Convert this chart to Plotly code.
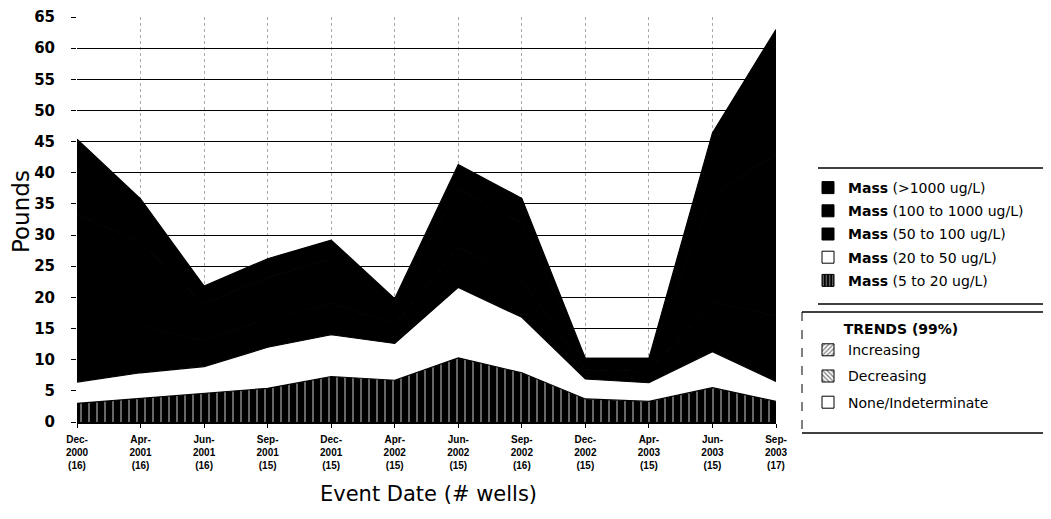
import plotly.graph_objects as go

# ---- data ----
months = ["Dec-", "Apr-", "Jun-", "Sep-", "Dec-", "Apr-", "Jun-", "Sep-", "Dec-", "Apr-", "Jun-", "Sep-"]
years = ["2000", "2001", "2001", "2001", "2001", "2002", "2002", "2002", "2002", "2003", "2003", "2003"]
wells = ["(16)", "(16)", "(16)", "(15)", "(15)", "(15)", "(15)", "(16)", "(15)", "(15)", "(15)", "(17)"]

mass_5_20 = [3.0, 3.8, 4.6, 5.4, 7.3, 6.7, 10.3, 7.9, 3.7, 3.3, 5.5, 3.3]
mass_20_50 = [3.4, 4.1, 4.3, 6.6, 6.7, 5.9, 11.3, 8.9, 3.2, 3.0, 5.8, 3.2]
mass_50_100 = [9.0, 7.5, 4.0, 4.5, 5.0, 3.0, 6.5, 6.0, 1.5, 1.8, 8.0, 10.5]
mass_100_1000 = [18.0, 13.4, 6.0, 6.7, 7.2, 3.2, 9.2, 9.1, 1.8, 2.1, 17.1, 26.0]
mass_gt_1000 = [12.0, 7.0, 2.9, 3.0, 3.0, 1.0, 4.0, 4.0, 0.0, 0.0, 10.0, 20.0]

y_ticks = [0, 5, 10, 15, 20, 25, 30, 35, 40, 45, 50, 55, 60, 65]

series_names = ["Mass (5 to 20 ug/L)", "Mass (20 to 50 ug/L)", "Mass (50 to 100 ug/L)",
                "Mass (100 to 1000 ug/L)", "Mass (>1000 ug/L)"]
trend_names = ["Increasing", "Decreasing", "None/Indeterminate"]

# ---- layout geometry (screen pixels) ----
OFF = 8                       # page body margin
W, H = 1051 - 2 * OFF, 519 - 2 * OFF
X0, X1 = 77, 776              # plot area left/right on screen
YB, YT = 422, 17              # plot area bottom/top on screen


def px(x):
    return (x - X0) / (X1 - X0)


def py(y):
    return (YB - y) / (YB - YT)


idx = list(range(len(months)))
tick_text = [f"{m}<br>{y}<br>{w}" for m, y, w in zip(months, years, wells)]

fig = go.Figure()

series = [mass_5_20, mass_20_50, mass_50_100, mass_100_1000, mass_gt_1000]
fills = ["black", "white", "black", "black", "black"]
for i, (vals, name, fc) in enumerate(zip(series, series_names, fills)):
    kw = {}
    if i == 0:
        kw["fillpattern"] = dict(shape="|", fgcolor="white", bgcolor="black", size=8, solidity=0.2)
    fig.add_trace(go.Scatter(
        x=idx, y=vals, name=name, stackgroup="one", mode="lines",
        fillcolor=fc, line=dict(width=1.2, color="black"), showlegend=False,
        hoverinfo="skip", **kw))

# ---- legend entries (square icons) ----
leg_font = dict(family="DejaVu Sans", size=14, color="black")
legend_specs = [
    (series_names[4], dict(color="black")),
    (series_names[3], dict(color="black")),
    (series_names[2], dict(color="black")),
    (series_names[1], dict(color="white")),
    (series_names[0], dict(color="black", pattern=dict(shape="|", fgcolor="white", bgcolor="black", size=4, solidity=0.35))),
]
for k, (name, mk) in enumerate(legend_specs):
    label = name.replace("Mass", "<b>Mass</b>", 1)
    fig.add_trace(go.Bar(x=[None], y=[None], name=label, legend="legend", legendgroup=f"m{k}",
                         marker=dict(line=dict(color="black", width=1), **mk), hoverinfo="skip"))

trend_specs = [
    (trend_names[0], dict(color="white", pattern=dict(shape="/", fgcolor="black", bgcolor="white", size=4, solidity=0.4))),
    (trend_names[1], dict(color="white", pattern=dict(shape="\\", fgcolor="black", bgcolor="white", size=4, solidity=0.4))),
    (trend_names[2], dict(color="white")),
]
for k, (name, mk) in enumerate(trend_specs):
    fig.add_trace(go.Bar(x=[None], y=[None], name=name, legend="legend2", legendgroup=f"t{k}",
                         marker=dict(line=dict(color="black", width=1), **mk), hoverinfo="skip"))

# ---- legend frames ----
shapes = [
    dict(type="line", xref="paper", yref="paper", x0=px(818), x1=px(1051), y0=py(168), y1=py(168), line=dict(color="black", width=1.5)),
    dict(type="line", xref="paper", yref="paper", x0=px(818), x1=px(1051), y0=py(304), y1=py(304), line=dict(color="black", width=1.5)),
    dict(type="line", xref="paper", yref="paper", x0=px(802), x1=px(1051), y0=py(312), y1=py(312), line=dict(color="black", width=1.5)),
    dict(type="line", xref="paper", yref="paper", x0=px(802), x1=px(1051), y0=py(433), y1=py(433), line=dict(color="black", width=1.5)),
    dict(type="line", xref="paper", yref="paper", x0=px(802), x1=px(802), y0=py(312), y1=py(433), line=dict(color="black", width=1, dash="dash")),
]

annotations = [
    dict(text="Pounds", xref="paper", yref="paper", x=px(21), y=py(212), textangle=-90,
         showarrow=False, xanchor="center", yanchor="middle",
         font=dict(family="DejaVu Sans", size=23, color="black")),
    dict(text="Event Date (# wells)", xref="paper", yref="paper", x=px(428), y=py(494),
         showarrow=False, xanchor="center", yanchor="middle",
         font=dict(family="DejaVu Sans", size=21, color="black")),
]

fig.update_layout(
    width=W, height=H,
    margin=dict(l=X0 - OFF, r=W - (X1 - OFF), t=YT - OFF, b=H - (YB - OFF), autoexpand=False),
    paper_bgcolor="white", plot_bgcolor="white",
    showlegend=True,
    barmode="overlay",
    shapes=shapes,
    annotations=annotations,
    legend=dict(x=px(808), y=py(172), xanchor="left", yanchor="top",
                bgcolor="rgba(0,0,0,0)", borderwidth=0, font=leg_font,
                traceorder="grouped", tracegroupgap=2,
                itemclick=False, itemdoubleclick=False),
    legend2=dict(x=px(808), y=py(316), xanchor="left", yanchor="top",
                 bgcolor="rgba(0,0,0,0)", borderwidth=0, font=leg_font,
                 title=dict(text="<b>TRENDS (99%)</b>", side="top center",
                            font=dict(family="DejaVu Sans", size=14, color="black")),
                 traceorder="grouped", tracegroupgap=5,
                 itemclick=False, itemdoubleclick=False),
    xaxis=dict(
        range=[0, len(idx) - 1], tickmode="array", tickvals=idx, ticktext=tick_text,
        tickangle=0, tickfont=dict(family="Liberation Sans", size=10, color="black", weight="bold"),
        showgrid=True, gridcolor="#aaaaaa", gridwidth=1, griddash="dot",
        showline=True, linecolor="black", linewidth=1.5,
        ticks="outside", ticklen=4, tickcolor="black", ticklabelstandoff=3, zeroline=False,
    ),
    yaxis=dict(
        range=[0, 65], tickmode="array", tickvals=y_ticks,
        tickfont=dict(family="DejaVu Sans", size=15, color="black", weight="bold"),
        showgrid=True, gridcolor="black", gridwidth=1,
        showline=False, zeroline=False,
        ticks="outside", ticklen=5, tickcolor="black", ticklabelstandoff=13,
    ),
)

fig.write_html("out.html")
